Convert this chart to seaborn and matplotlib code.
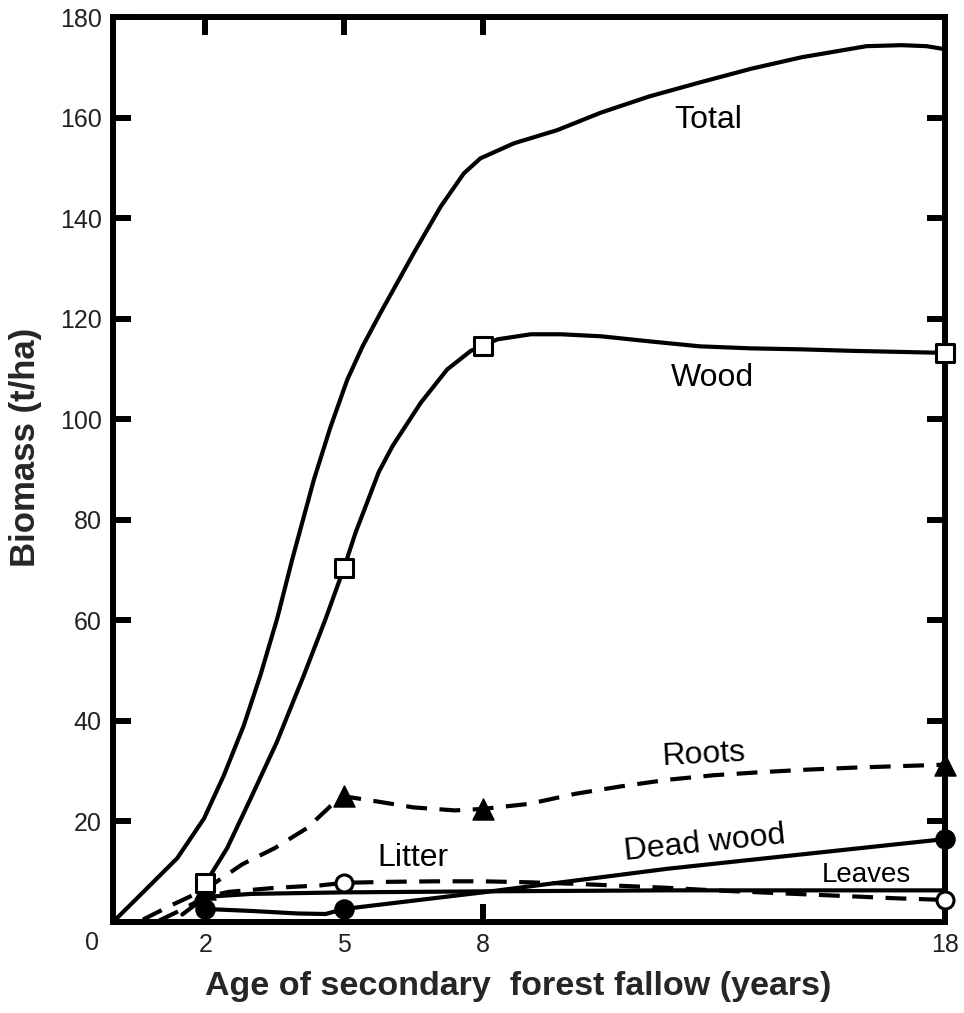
import matplotlib
matplotlib.use("Agg")
import matplotlib.pyplot as plt
import seaborn as sns
import numpy as np
import pandas as pd

# ---- data ----
total_x = [0, 0.67, 1.39, 1.97, 2.40, 2.83, 3.19, 3.55, 3.88, 4.35, 4.7, 5.07, 5.4, 5.79, 6.51, 7.09, 7.59, 7.95, 8.68, 9.61, 10.56, 11.6, 12.7, 13.8, 14.9, 16.3, 17.06, 17.6, 18]
total_y = [0, 6.1, 12.7, 20.6, 29.2, 39.1, 49.1, 60.3, 72.2, 88.1, 98.3, 107.9, 114.5, 121.2, 133.1, 142.3, 148.9, 151.9, 154.9, 157.5, 161, 164.2, 167, 169.7, 172, 174.2, 174.4, 174.2, 173.6]

wood_x = [2.0, 2.47, 2.98, 3.55, 4.13, 4.6, 5.0, 5.25, 5.5, 5.75, 6.05, 6.66, 7.23, 7.74, 8.32, 9.04, 9.69, 10.56, 11.6, 12.7, 13.8, 14.9, 16, 17, 18]
wood_y = [7.7, 14.7, 24.6, 35.9, 49.1, 60.3, 70.5, 77.5, 83.5, 89.5, 94.7, 103.3, 109.9, 113.6, 115.9, 116.9, 116.9, 116.5, 115.5, 114.5, 114.1, 113.9, 113.6, 113.4, 113.2]

roots_x = [0.65, 1.3, 2, 2.8, 3.5, 4.2, 4.7, 5, 5.7, 6.5, 7.4, 8, 9, 10, 11, 12, 13, 14, 15, 16, 17, 18]
roots_y = [0.5, 3.5, 6.5, 11.5, 14.7, 18.7, 23, 25, 24, 22.8, 22.2, 22.5, 23.5, 25.5, 27, 28.3, 29.2, 29.8, 30.3, 30.7, 31, 31.3]

litter_x = [1.0, 1.5, 2, 2.5, 3.5, 4.5, 5, 6, 7, 8, 9, 10, 11, 12, 13, 14, 15, 16, 17, 18]
litter_y = [0.3, 2.5, 5, 6, 6.8, 7.3, 7.8, 8, 8.1, 8.1, 7.9, 7.6, 7.2, 6.8, 6.3, 5.9, 5.5, 5.1, 4.7, 4.4]

leaves_x = [1.5, 2, 3, 5, 8, 12, 18]
leaves_y = [1.5, 5, 5.6, 5.9, 6.1, 6.3, 6.3]

dead_x = [2, 3, 4, 4.6, 5, 8, 12, 18]
dead_y = [2.6, 2.2, 1.7, 1.6, 2.6, 5.9, 10.6, 16.5]

# measured points (markers)
wood_mx, wood_my = [2, 5, 8, 18], [7.7, 70.5, 114.6, 113.2]
roots_mx, roots_my = [2, 5, 8, 18], [6.5, 25, 22.5, 31.3]
litter_mx, litter_my = [5, 18], [7.8, 4.4]
dead_mx, dead_my = [2, 5, 18], [2.6, 2.6, 16.5]

x_ticks = [2, 5, 8, 18]
y_ticks = [0, 20, 40, 60, 80, 100, 120, 140, 160, 180]

labels = ["Total", "Wood", "Roots", "Litter", "Dead wood", "Leaves"]
label_x = [12.88, 12.97, 12.77, 6.5, 12.8, 16.3]
label_y = [159.5, 108.3, 33.2, 12.7, 15.6, 9.3]
label_rot = [0, 0, 3, 0, 6, 0]
label_size = [23, 23, 23, 23, 23, 20]

# ---- styling ----
sns.set_style("ticks")
plt.rcParams['font.family'] = ['Liberation Sans', 'DejaVu Sans']

fig = plt.figure(figsize=(9.64, 10.13), dpi=100)
ax = fig.add_axes([0.1172, 0.0898, 0.8631, 0.8934])

LW = 3.0
dash = (0, (5, 3))

sns.lineplot(x=total_x, y=total_y, sort=False, estimator=None, color='k', lw=LW, ax=ax)
sns.lineplot(x=wood_x, y=wood_y, sort=False, estimator=None, color='k', lw=LW, ax=ax)
sns.lineplot(x=roots_x, y=roots_y, sort=False, estimator=None, color='k', lw=LW, linestyle=dash, ax=ax)
sns.lineplot(x=litter_x, y=litter_y, sort=False, estimator=None, color='k', lw=LW, linestyle=dash, ax=ax)
sns.lineplot(x=leaves_x, y=leaves_y, sort=False, estimator=None, color='k', lw=LW, ax=ax)
sns.lineplot(x=dead_x, y=dead_y, sort=False, estimator=None, color='k', lw=LW, ax=ax)
for line in ax.get_lines():
    line.set_solid_joinstyle('round')
    line.set_dash_joinstyle('round')
    line.set_clip_on(False)

sns.scatterplot(x=dead_mx, y=dead_my, marker='o', s=190, color='k', edgecolor='k', linewidth=1, ax=ax, zorder=5, clip_on=False)
sns.scatterplot(x=roots_mx, y=roots_my, marker='^', s=230, color='k', edgecolor='k', linewidth=1, ax=ax, zorder=5, clip_on=False)
sns.scatterplot(x=wood_mx, y=wood_my, marker='s', s=160, color='white', edgecolor='k', linewidth=2.2, ax=ax, zorder=6, clip_on=False)
sns.scatterplot(x=litter_mx, y=litter_my, marker='o', s=150, color='white', edgecolor='k', linewidth=2.2, ax=ax, zorder=6, clip_on=False)

ax.set_xlim(0, 18)
ax.set_ylim(0, 180)
ax.set_xticks(x_ticks)
ax.set_xticklabels([str(v) for v in x_ticks])
ax.set_yticks(y_ticks)
ax.set_yticklabels([''] + [str(v) for v in y_ticks[1:]])

for sp in ax.spines.values():
    sp.set_visible(True)
    sp.set_linewidth(4.3)
    sp.set_color('k')
    sp.set_capstyle('projecting')

ax.tick_params(axis='both', which='major', direction='in', length=13, width=4.3,
               color='k', labelsize=18, labelcolor='#222222', pad=8)
ax.tick_params(axis='x', top=True, bottom=True)
ax.tick_params(axis='y', left=True, right=True)

ax.text(-0.025, -0.023, "0", transform=ax.transAxes, ha='center', va='center',
        fontsize=18, color='#222222')

ax.set_xlabel("Age of secondary  forest fallow (years)", fontsize=24.5, fontweight='bold')
ax.xaxis.set_label_coords(0.487, -0.054)
ax.set_ylabel("Biomass (t/ha)", fontsize=25, fontweight='bold')
ax.yaxis.set_label_coords(-0.085, 0.525)

for t, x, y, r, fs in zip(labels, label_x, label_y, label_rot, label_size):
    ax.text(x, y, t, ha='center', va='center', fontsize=fs, rotation=r, color='k')

fig.savefig("out.png", dpi=100)
